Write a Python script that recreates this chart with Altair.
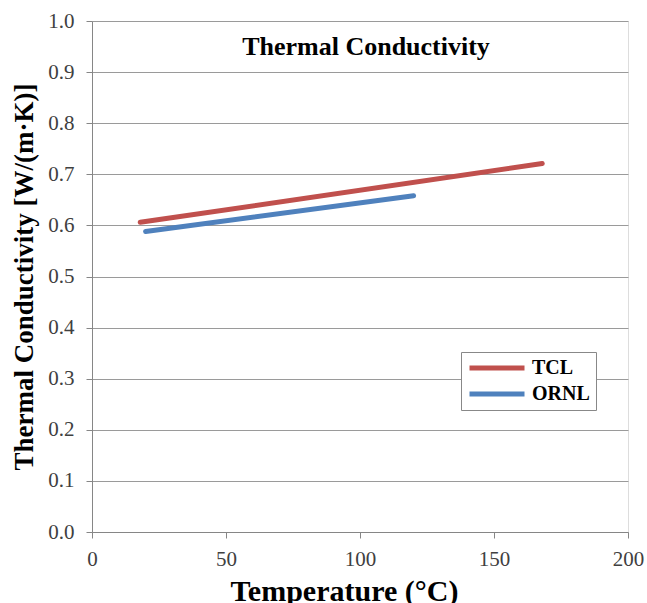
import altair as alt
import pandas as pd

series = ["TCL", "ORNL"]
colors = ["#C0504D", "#4F81BD"]
tcl_temp = [18, 168]
tcl_k = [0.606, 0.721]
ornl_temp = [20, 120]
ornl_k = [0.588, 0.658]
x_ticks = [0, 50, 100, 150, 200]
y_ticks = [0.0, 0.1, 0.2, 0.3, 0.4, 0.5, 0.6, 0.7, 0.8, 0.9, 1.0]
chart_title = ["Thermal Conductivity"]

df = pd.DataFrame({
    "series": ["TCL"] * len(tcl_temp) + ["ORNL"] * len(ornl_temp),
    "temp": tcl_temp + ornl_temp,
    "k": tcl_k + ornl_k,
})

FONT = "Liberation Serif"
AX = "#868686"

lines = alt.Chart(df).mark_line(strokeWidth=5, strokeCap="round").encode(
    x=alt.X("temp:Q",
            scale=alt.Scale(domain=[0, 200], nice=False),
            axis=alt.Axis(values=x_ticks, title="Temperature (°C)", grid=False,
                          labelFont=FONT, labelFontSize=21, labelColor="#404040",
                          labelPadding=10, labelFlush=False, tickSize=6,
                          tickColor=AX, domainColor=AX,
                          titleFont=FONT, titleFontSize=30, titleFontWeight="bold",
                          titleColor="black", titlePadding=7, titleX=252)),
    y=alt.Y("k:Q",
            scale=alt.Scale(domain=[0, 1], nice=False),
            axis=alt.Axis(values=y_ticks, format=".1f",
                          title="Thermal Conductivity [W/(m·K)]", grid=True,
                          gridColor="#9A9A9A", gridWidth=1,
                          labelFont=FONT, labelFontSize=21, labelColor="#404040",
                          labelPadding=12, labelFlush=False, tickSize=6,
                          tickColor=AX, domainColor=AX,
                          titleFont=FONT, titleFontSize=27, titleFontWeight="bold",
                          titleColor="black", titlePadding=9)),
    color=alt.Color("series:N",
                    scale=alt.Scale(domain=series, range=colors),
                    legend=alt.Legend(title=None, orient="none", legendX=369, legendY=331,
                                      symbolType="stroke", symbolSize=3025,
                                      symbolStrokeWidth=5, clipHeight=20,
                                      labelFont=FONT, labelFontSize=20,
                                      labelFontWeight="bold", labelColor="black",
                                      labelOffset=5, rowPadding=6, padding=6,
                                      strokeColor="#888888", fillColor="white")),
)

title_text = alt.Chart(pd.DataFrame({"t": chart_title})).mark_text(
    font=FONT, fontSize=26, fontWeight="bold", color="black",
    align="center", baseline="alphabetic",
).encode(text="t:N", x=alt.value(274), y=alt.value(34))

chart = alt.layer(lines, title_text).properties(
    width=536, height=511,
    autosize=alt.AutoSizeParams(type="none"),
    padding={"left": 92, "top": 21, "right": 19, "bottom": 71},
).configure_view(stroke=AX, strokeWidth=1).configure(background="white")

chart.save("out.html", embed_options={"renderer": "svg", "actions": False})
